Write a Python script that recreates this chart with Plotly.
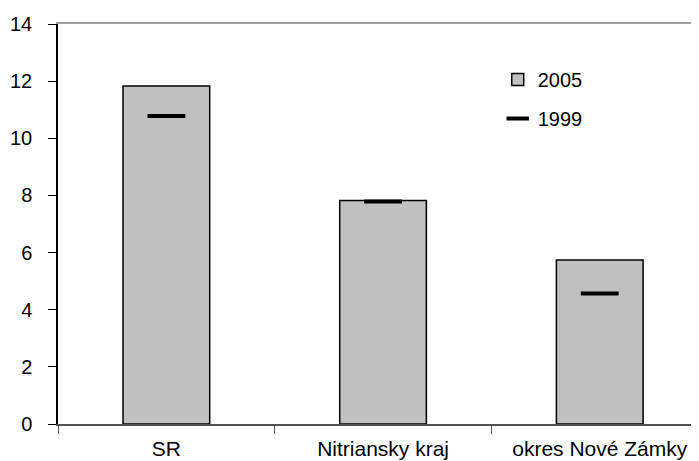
import plotly.graph_objects as go

categories = ["SR", "Nitriansky kraj", "okres Nové Zámky"]
values_2005 = [11.83, 7.82, 5.74]
values_1999 = [10.78, 7.79, 4.57]
y_ticks = [0, 2, 4, 6, 8, 10, 12, 14]

FONT = "Liberation Sans, Arial, sans-serif"

fig = go.Figure()
fig.add_trace(go.Bar(
    x=categories, y=values_2005, name="2005", width=0.4,
    marker=dict(color="#C0C0C0", line=dict(color="black", width=1.5)),
    legendgroup="a",
))
fig.add_trace(go.Scatter(
    x=categories, y=values_1999, name="1999", mode="markers",
    marker=dict(symbol="line-ew", size=27, color="black",
                line=dict(color="black", width=4)),
    legendgroup="b",
))
# invisible helper trace so the top border axis exists
fig.add_trace(go.Scatter(x=[None], y=[None], xaxis="x2", showlegend=False, hoverinfo="skip"))

# page body has an 8px margin, so the figure is shrunk by 8px on each side
fig.update_layout(
    width=691, height=453,
    margin=dict(l=50, r=0, t=16, b=37),
    paper_bgcolor="white", plot_bgcolor="white",
    font=dict(family=FONT, size=20, color="black"),
    showlegend=True,
    legend=dict(x=0.686, y=0.91, xanchor="left", yanchor="top",
                bgcolor="rgba(0,0,0,0)", font=dict(size=20),
                tracegroupgap=10, traceorder="grouped"),
    bargap=0.6,
    xaxis=dict(
        type="category", range=[-0.5, 2.458],
        showline=True, linecolor="#505050", linewidth=1.5,
        ticks="outside", ticklen=8, tickcolor="#505050", tickwidth=1,
        tickson="boundaries", showgrid=False, zeroline=False,
        tickfont=dict(size=21, family=FONT, color="black"),
        ticklabelstandoff=5, automargin=False,
    ),
    xaxis2=dict(
        overlaying="x", side="top", range=[0, 1], showline=True,
        linecolor="#A0A0A0", linewidth=2, showticklabels=False,
        ticks="", showgrid=False, zeroline=False,
    ),
    yaxis=dict(
        range=[0, 14], tickvals=y_ticks,
        showline=True, linecolor="black", linewidth=1.5,
        ticks="outside", ticklen=8, tickcolor="black", tickwidth=1,
        showgrid=False, zeroline=False,
        tickfont=dict(size=20, family=FONT, color="black"),
        ticklabelstandoff=12, automargin=False,
    ),
)

fig.write_html("out.html")
